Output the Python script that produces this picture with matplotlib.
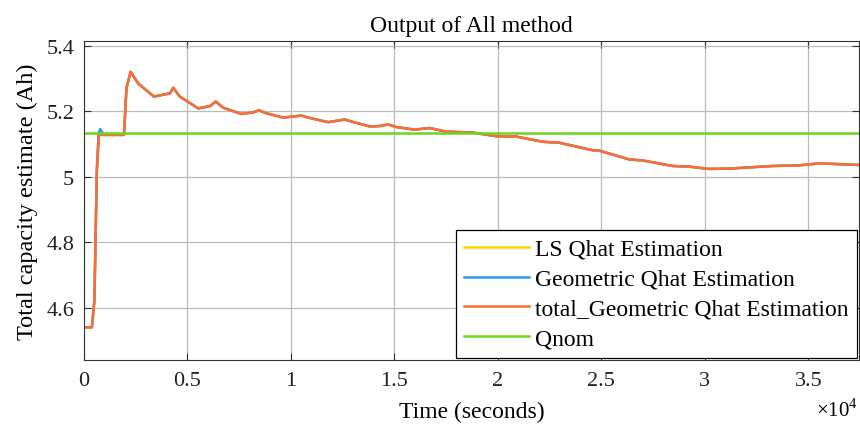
import numpy as np
from matplotlib import pyplot as plt
from matplotlib.ticker import FuncFormatter

# time (s) and capacity estimate (Ah)
t = [0, 380, 500, 620, 720, 900, 1500, 1930, 2050, 2250, 2620, 3380, 3990, 4150, 4310, 4630,
     5520, 6080, 6370, 6720, 7610, 8170, 8460, 8810, 9620, 10510, 10830, 11790, 12600, 12920,
     13800, 14290, 14690, 15090, 15970, 16700, 17500, 18790, 19920, 20880, 22170, 22970,
     24580, 24900, 26350, 26990, 28440, 29250, 30210, 31180, 33270, 34560, 35530, 37500]
q_total = [4.54, 4.54, 4.62, 5.02, 5.128, 5.128, 5.128, 5.128, 5.27, 5.321, 5.285, 5.245, 5.253,
           5.255, 5.272, 5.245, 5.209, 5.216, 5.230, 5.211, 5.192, 5.197, 5.203, 5.194, 5.181,
           5.187, 5.181, 5.167, 5.175, 5.169, 5.154, 5.155, 5.160, 5.152, 5.144, 5.149, 5.138,
           5.135, 5.124, 5.123, 5.107, 5.104, 5.081, 5.080, 5.053, 5.050, 5.033, 5.031, 5.024,
           5.025, 5.033, 5.035, 5.041, 5.036]
# geometric estimate differs only by a small bump near the start
t_geo_bump = [700, 780, 880, 960]
q_geo_bump = [5.132, 5.146, 5.136, 5.128]
q_nom = 5.133

x_ticks = [0, 5000, 10000, 15000, 20000, 25000, 30000, 35000]
y_ticks = [4.6, 4.8, 5.0, 5.2, 5.4]

plt.rcParams['font.family'] = ['Liberation Serif', 'DejaVu Serif']
plt.rcParams['mathtext.fontset'] = 'custom'
plt.rcParams['mathtext.rm'] = 'Liberation Serif'

fig = plt.figure(figsize=(8.6, 4.27), dpi=100)
ax = fig.add_axes([0.0977, 0.1546, 0.9012, 0.747])

keep = [(v, q) for v, q in zip(t, q_total) if v < 700 or v > 960]
t_geo = np.array([v for v, q in keep] + t_geo_bump)
q_geo = np.array([q for v, q in keep] + q_geo_bump)
order = np.argsort(t_geo)
t_geo, q_geo = t_geo[order], q_geo[order]

ax.plot(t, q_total, color='#FFD100', lw=1.8, label='LS Qhat Estimation')
ax.plot(t_geo, q_geo, color='#2E9BF0', lw=1.8, label='Geometric Qhat Estimation')
ax.plot(t, q_total, color='#FF6B35', lw=1.8, label='total_Geometric Qhat Estimation')
ax.axhline(q_nom, color='#6DD420', lw=1.8, label='Qnom')

ax.set_xlim(0, 37450)
ax.set_ylim(4.44, 5.415)
ax.set_xticks(x_ticks)
ax.set_yticks(y_ticks)
ax.xaxis.set_major_formatter(FuncFormatter(lambda v, p: '%g' % (v / 1e4)))
ax.yaxis.set_major_formatter(FuncFormatter(lambda v, p: '%g' % round(v, 1)))
ax.tick_params(direction='in', top=True, right=True, labelsize=16, length=5,
               color='#333333', labelcolor='#222222')
ax.tick_params(axis='x', pad=8)
ax.tick_params(axis='y', pad=7)
ax.grid(True, color='#BBBBBB', lw=0.9)
ax.set_axisbelow(True)
for s in ax.spines.values():
    s.set_color('#333333')

ax.set_title('Output of All method', fontsize=17, pad=7)
ax.set_xlabel('Time (seconds)', fontsize=17, labelpad=8)
ax.set_ylabel('Total capacity estimate (Ah)', fontsize=17.5, labelpad=6)
fig.text(0.997, 0.012, r'$\times10^{4}$', fontsize=15, ha='right', va='bottom')

leg = ax.legend(loc='lower right', fontsize=17, fancybox=False, framealpha=1,
                edgecolor='black', borderaxespad=0.1, handlelength=2.75,
                labelspacing=0.35, handletextpad=0.25, borderpad=0.35)
leg.get_frame().set_linewidth(0.9)

fig.savefig('out.png', dpi=100)
